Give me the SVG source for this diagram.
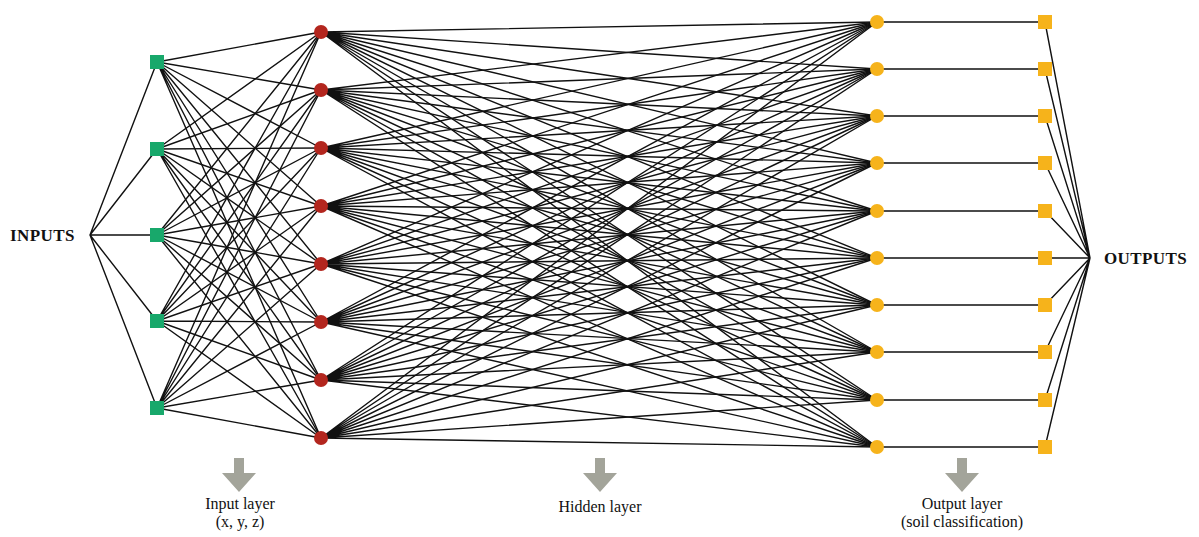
<svg xmlns="http://www.w3.org/2000/svg" width="1199" height="537" viewBox="0 0 1199 537">
<style>
.c{stroke:#111;stroke-width:1.4;fill:none;stroke-linecap:round}
.in{fill:#18a86b}
.hid{fill:#b3261e}
.out{fill:#f6b31b}
.big{font-family:"Liberation Serif","DejaVu Serif",serif;font-weight:bold;font-size:17px;fill:#111;letter-spacing:0.4px}
.lbl{font-family:"Liberation Serif","DejaVu Serif",serif;font-size:16px;fill:#111;text-anchor:middle}
.arr{fill:#a3a49a}
</style>
<defs>
<rect id="sq" x="-7" y="-7" width="14" height="14"/>
<path id="ar" d="M-5 0H5V15H17L0 34L-17 15H-5Z"/>
</defs>
<g id="connectors" class="c">
<path d="M90 235L157 62M90 235L157 149M90 235L157 235M90 235L157 321M90 235L157 408"/>
<path d="M157 62L321 32M157 62L321 90M157 62L321 148M157 62L321 206M157 62L321 264M157 62L321 322M157 62L321 380M157 62L321 438"/>
<path d="M157 149L321 32M157 149L321 90M157 149L321 148M157 149L321 206M157 149L321 264M157 149L321 322M157 149L321 380M157 149L321 438"/>
<path d="M157 235L321 32M157 235L321 90M157 235L321 148M157 235L321 206M157 235L321 264M157 235L321 322M157 235L321 380M157 235L321 438"/>
<path d="M157 321L321 32M157 321L321 90M157 321L321 148M157 321L321 206M157 321L321 264M157 321L321 322M157 321L321 380M157 321L321 438"/>
<path d="M157 408L321 32M157 408L321 90M157 408L321 148M157 408L321 206M157 408L321 264M157 408L321 322M157 408L321 380M157 408L321 438"/>
<path d="M321 32L877 22M321 32L877 69M321 32L877 116M321 32L877 163M321 32L877 211M321 32L877 258M321 32L877 305M321 32L877 352M321 32L877 400M321 32L877 447"/>
<path d="M321 90L877 22M321 90L877 69M321 90L877 116M321 90L877 163M321 90L877 211M321 90L877 258M321 90L877 305M321 90L877 352M321 90L877 400M321 90L877 447"/>
<path d="M321 148L877 22M321 148L877 69M321 148L877 116M321 148L877 163M321 148L877 211M321 148L877 258M321 148L877 305M321 148L877 352M321 148L877 400M321 148L877 447"/>
<path d="M321 206L877 22M321 206L877 69M321 206L877 116M321 206L877 163M321 206L877 211M321 206L877 258M321 206L877 305M321 206L877 352M321 206L877 400M321 206L877 447"/>
<path d="M321 264L877 22M321 264L877 69M321 264L877 116M321 264L877 163M321 264L877 211M321 264L877 258M321 264L877 305M321 264L877 352M321 264L877 400M321 264L877 447"/>
<path d="M321 322L877 22M321 322L877 69M321 322L877 116M321 322L877 163M321 322L877 211M321 322L877 258M321 322L877 305M321 322L877 352M321 322L877 400M321 322L877 447"/>
<path d="M321 380L877 22M321 380L877 69M321 380L877 116M321 380L877 163M321 380L877 211M321 380L877 258M321 380L877 305M321 380L877 352M321 380L877 400M321 380L877 447"/>
<path d="M321 438L877 22M321 438L877 69M321 438L877 116M321 438L877 163M321 438L877 211M321 438L877 258M321 438L877 305M321 438L877 352M321 438L877 400M321 438L877 447"/>
<path d="M877 22H1045M877 69H1045M877 116H1045M877 163H1045M877 211H1045M877 258H1045M877 305H1045M877 352H1045M877 400H1045M877 447H1045"/>
<path d="M1045 22L1090 258M1045 69L1090 258M1045 116L1090 258M1045 163L1090 258M1045 211L1090 258M1045 258L1090 258M1045 305L1090 258M1045 352L1090 258M1045 400L1090 258M1045 447L1090 258"/>
</g>
<g id="inputs-label"><text class="big" x="10" y="241">INPUTS</text></g>
<g id="outputs-label"><text class="big" x="1104" y="264">OUTPUTS</text></g>
<g id="input-layer">
<use href="#sq" class="in" x="157" y="62"/>
<use href="#sq" class="in" x="157" y="149"/>
<use href="#sq" class="in" x="157" y="235"/>
<use href="#sq" class="in" x="157" y="321"/>
<use href="#sq" class="in" x="157" y="408"/>
</g>
<g id="hidden-layer" class="hid">
<circle cx="321" cy="32" r="7"/>
<circle cx="321" cy="90" r="7"/>
<circle cx="321" cy="148" r="7"/>
<circle cx="321" cy="206" r="7"/>
<circle cx="321" cy="264" r="7"/>
<circle cx="321" cy="322" r="7"/>
<circle cx="321" cy="380" r="7"/>
<circle cx="321" cy="438" r="7"/>
</g>
<g id="output-layer" class="out">
<circle cx="877" cy="22" r="7"/>
<circle cx="877" cy="69" r="7"/>
<circle cx="877" cy="116" r="7"/>
<circle cx="877" cy="163" r="7"/>
<circle cx="877" cy="211" r="7"/>
<circle cx="877" cy="258" r="7"/>
<circle cx="877" cy="305" r="7"/>
<circle cx="877" cy="352" r="7"/>
<circle cx="877" cy="400" r="7"/>
<circle cx="877" cy="447" r="7"/>
</g>
<g id="output-nodes" class="out">
<use href="#sq" x="1045" y="22"/>
<use href="#sq" x="1045" y="69"/>
<use href="#sq" x="1045" y="116"/>
<use href="#sq" x="1045" y="163"/>
<use href="#sq" x="1045" y="211"/>
<use href="#sq" x="1045" y="258"/>
<use href="#sq" x="1045" y="305"/>
<use href="#sq" x="1045" y="352"/>
<use href="#sq" x="1045" y="400"/>
<use href="#sq" x="1045" y="447"/>
</g>
<g id="label-input">
<use href="#ar" class="arr" x="239" y="458"/>
<text class="lbl" x="240" y="509">Input layer</text>
<text class="lbl" x="240" y="527">(x, y, z)</text>
</g>
<g id="label-hidden">
<use href="#ar" class="arr" x="600" y="458"/>
<text class="lbl" x="600" y="512">Hidden layer</text>
</g>
<g id="label-output">
<use href="#ar" class="arr" x="962" y="458"/>
<text class="lbl" x="962" y="509">Output layer</text>
<text class="lbl" x="962" y="527">(soil classification)</text>
</g>
</svg>
